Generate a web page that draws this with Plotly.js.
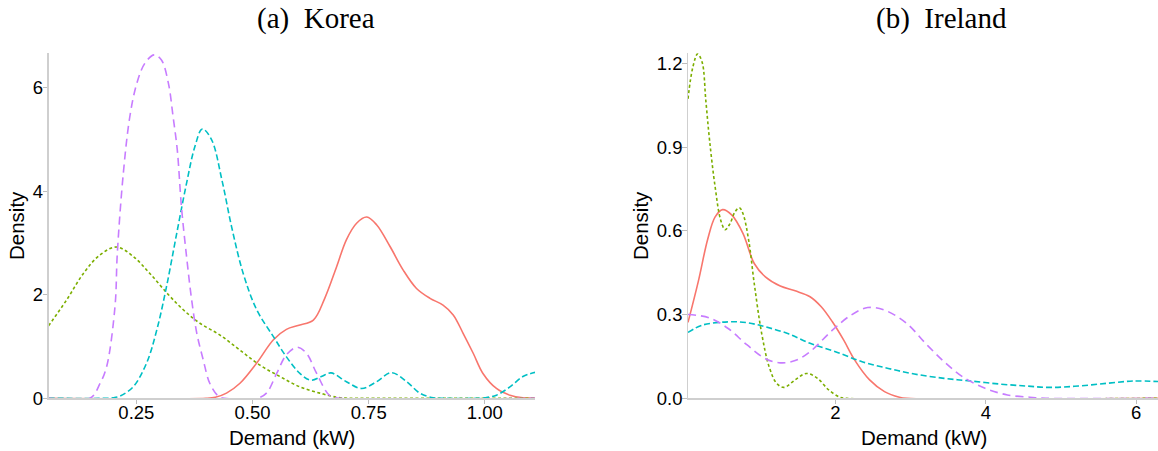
<!DOCTYPE html>
<html>
<head>
<meta charset="utf-8">
<script src="https://cdn.plot.ly/plotly-3.0.1.min.js"></script>
<style>html,body{margin:0;padding:0;background:#fff;}#chart{width:1158px;height:451px;}</style>
</head>
<body>
<div id="chart"></div>
<script>
// ---------- Korea (kW) ----------
const koreaRedX = [0.061, 0.40, 0.42, 0.444, 0.473, 0.509, 0.545, 0.573, 0.600, 0.631, 0.655, 0.681, 0.702, 0.724, 0.746, 0.767, 0.796, 0.824, 0.853, 0.882, 0.910, 0.932, 0.953, 0.975, 0.996, 1.025, 1.054, 1.082, 1.108];
const koreaRedY = [0, 0, 0.02, 0.10, 0.29, 0.68, 1.13, 1.33, 1.41, 1.51, 1.92, 2.54, 3.06, 3.38, 3.50, 3.35, 2.93, 2.48, 2.12, 1.93, 1.80, 1.61, 1.26, 0.87, 0.48, 0.19, 0.06, 0.01, 0.003];

const koreaGreenX = [0.061, 0.100, 0.136, 0.172, 0.207, 0.243, 0.279, 0.319, 0.351, 0.385, 0.430, 0.473, 0.516, 0.559, 0.602, 0.645, 0.681, 0.700, 0.720, 1.108];
const koreaGreenY = [1.40, 1.90, 2.41, 2.77, 2.92, 2.74, 2.41, 2.00, 1.71, 1.46, 1.22, 0.93, 0.64, 0.42, 0.22, 0.10, 0.02, 0.003, 0, 0];

const koreaCyanX = [0.061, 0.180, 0.200, 0.215, 0.243, 0.272, 0.294, 0.315, 0.337, 0.358, 0.376, 0.392, 0.412, 0.434, 0.455, 0.480, 0.509, 0.545, 0.573, 0.602, 0.625, 0.648, 0.669, 0.702, 0.735, 0.767, 0.799, 0.832, 0.860, 0.889, 0.910, 0.980, 1.000, 1.025, 1.054, 1.082, 1.108];
const koreaCyanY = [0, 0, 0.01, 0.045, 0.22, 0.68, 1.32, 2.16, 3.19, 4.15, 4.86, 5.20, 4.99, 4.22, 3.31, 2.41, 1.71, 1.19, 0.80, 0.48, 0.35, 0.42, 0.49, 0.32, 0.19, 0.32, 0.495, 0.32, 0.10, 0.01, 0, 0, 0.01, 0.06, 0.22, 0.42, 0.50];

const koreaPurpleX = [0.061, 0.150, 0.172, 0.186, 0.204, 0.209, 0.222, 0.236, 0.251, 0.2685, 0.2885, 0.304, 0.319, 0.329, 0.338, 0.347, 0.358, 0.369, 0.380, 0.394, 0.408, 0.426, 0.440, 0.510, 0.530, 0.552, 0.573, 0.596, 0.616, 0.638, 0.667, 0.690, 1.108];
const koreaPurpleY = [0, 0, 0.29, 0.61, 1.77, 2.80, 4.35, 5.44, 6.08, 6.47, 6.63, 6.53, 6.08, 5.44, 4.80, 3.70, 2.74, 1.90, 1.26, 0.74, 0.29, 0.045, 0, 0, 0.10, 0.48, 0.84, 0.985, 0.87, 0.48, 0.045, 0, 0];

// ---------- Ireland (kW) ----------
const irelandRedX = [0.04, 0.178, 0.302, 0.401, 0.50, 0.624, 0.772, 0.921, 1.069, 1.267, 1.465, 1.663, 1.812, 1.960, 2.109, 2.257, 2.455, 2.653, 2.851, 2.95, 6.29];
const irelandRedY = [0.272, 0.42, 0.57, 0.650, 0.676, 0.656, 0.590, 0.483, 0.435, 0.402, 0.385, 0.364, 0.328, 0.274, 0.209, 0.137, 0.066, 0.024, 0.004, 0, 0];

const irelandGreenX = [0.04, 0.104, 0.168, 0.228, 0.277, 0.327, 0.401, 0.475, 0.535, 0.599, 0.663, 0.723, 0.772, 0.847, 0.921, 1.020, 1.119, 1.218, 1.317, 1.465, 1.614, 1.762, 1.911, 2.06, 2.15, 6.29];
const irelandGreenY = [1.073, 1.186, 1.234, 1.204, 1.067, 0.924, 0.757, 0.638, 0.604, 0.626, 0.667, 0.683, 0.661, 0.566, 0.411, 0.232, 0.113, 0.054, 0.039, 0.066, 0.089, 0.0715, 0.030, 0.004, 0, 0];

const irelandCyanX = [0.04, 0.228, 0.574, 0.822, 1.069, 1.366, 1.663, 2.0, 2.356, 2.703, 3.05, 3.446, 3.792, 4.188, 4.535, 4.856, 5.228, 5.624, 5.970, 6.29];
const irelandCyanY = [0.236, 0.262, 0.274, 0.271, 0.256, 0.232, 0.197, 0.167, 0.131, 0.107, 0.087, 0.0715, 0.062, 0.051, 0.044, 0.039, 0.044, 0.054, 0.062, 0.060];

const irelandPurpleX = [0.04, 0.327, 0.574, 0.822, 1.069, 1.267, 1.465, 1.663, 1.96, 2.208, 2.43, 2.653, 2.95, 3.198, 3.446, 3.693, 3.99, 4.287, 4.584, 4.8, 6.29];
const irelandPurpleY = [0.300, 0.288, 0.250, 0.192, 0.142, 0.127, 0.135, 0.167, 0.244, 0.298, 0.325, 0.316, 0.268, 0.197, 0.131, 0.077, 0.036, 0.012, 0.004, 0, 0];

// ---------- axis ticks / titles ----------
const koreaXTicks = [0.25, 0.50, 0.75, 1.00];
const koreaYTicks = [0, 2, 4, 6];
const irelandXTicks = [2, 4, 6];
const irelandYTicks = [0.0, 0.3, 0.6, 0.9, 1.2];
const panelTitles = ['(a)\u00a0\u00a0Korea', '(b)\u00a0\u00a0Ireland'];
const xTitle = 'Demand (kW)';
const yTitle = 'Density';

const COLORS = {red: '#F8766D', green: '#7CAE00', cyan: '#00BFC4', purple: '#C77CFF'};
const DASH = {red: 'solid', green: '3px,2.5px', cyan: '6px,3px', purple: '8px,5px'};

function tr(x, y, c, xa, ya) {
  return {x: x, y: y, type: 'scatter', mode: 'lines', xaxis: xa, yaxis: ya,
    line: {color: COLORS[c], width: 1.6, dash: DASH[c], shape: 'spline', smoothing: 1},
    hoverinfo: 'skip', showlegend: false};
}

const data = [
  tr(koreaRedX, koreaRedY, 'red', 'x', 'y'),
  tr(koreaGreenX, koreaGreenY, 'green', 'x', 'y'),
  tr(koreaCyanX, koreaCyanY, 'cyan', 'x', 'y'),
  tr(koreaPurpleX, koreaPurpleY, 'purple', 'x', 'y'),
  tr(irelandRedX, irelandRedY, 'red', 'x2', 'y2'),
  tr(irelandGreenX, irelandGreenY, 'green', 'x2', 'y2'),
  tr(irelandCyanX, irelandCyanY, 'cyan', 'x2', 'y2'),
  tr(irelandPurpleX, irelandPurpleY, 'purple', 'x2', 'y2')
];

const W = 1158, H = 451;
const SANS = 'Liberation Sans, Arial, sans-serif';
const SERIF = 'Liberation Serif, Times New Roman, serif';
const tickFont = {family: SANS, size: 18.5, color: '#000'};
const axisCommon = {
  showline: true, linecolor: '#cfcfcf', linewidth: 1.3,
  ticks: 'outside', ticklen: 4.5, tickwidth: 1, tickcolor: '#bdbdbd',
  showgrid: false, zeroline: false, tickfont: tickFont, fixedrange: true
};
const xAxisCommon = Object.assign({}, axisCommon, {ticklabelstandoff: -7});
const yAxisCommon = Object.assign({}, axisCommon, {ticklabelstandoff: -4});
const yDom = [(H - 398.3) / H, (H - 53.3) / H];

function ann(text, px, py, font, extra) {
  return Object.assign({text: text, x: px / W, y: 1 - py / H, xref: 'paper', yref: 'paper',
    showarrow: false, xanchor: 'center', yanchor: 'middle', font: font}, extra || {});
}
const titleFont = {family: SERIF, size: 29, color: '#000'};
const axTitleFont = {family: SANS, size: 20.5, color: '#000'};

const layout = {
  width: W, height: H, autosize: false,
  margin: {l: 0, r: 0, t: 0, b: 0, pad: 0},
  paper_bgcolor: '#fff', plot_bgcolor: '#fff',
  xaxis: Object.assign({}, xAxisCommon, {domain: [48.5 / W, 535 / W], range: [0.0609, 1.108],
    tickvals: koreaXTicks, tickformat: '.2f', anchor: 'y'}),
  yaxis: Object.assign({}, yAxisCommon, {domain: yDom, range: [0, 6.66],
    tickvals: koreaYTicks, anchor: 'x'}),
  xaxis2: Object.assign({}, xAxisCommon, {domain: [688 / W, 1158 / W], range: [0.04, 6.29],
    tickvals: irelandXTicks, anchor: 'y2'}),
  yaxis2: Object.assign({}, yAxisCommon, {domain: yDom, range: [0, 1.236],
    tickvals: irelandYTicks, tickformat: '.1f', anchor: 'x2'}),
  annotations: [
    ann(panelTitles[0], 316, 18, titleFont),
    ann(panelTitles[1], 941, 18, titleFont),
    ann(xTitle, 291.5, 437, axTitleFont),
    ann(xTitle, 924, 437, axTitleFont),
    ann(yTitle, 16, 226, axTitleFont, {textangle: -90}),
    ann(yTitle, 640, 226, axTitleFont, {textangle: -90})
  ]
};

Plotly.newPlot('chart', data, layout, {staticPlot: true, displayModeBar: false});
</script>
</body>
</html>
